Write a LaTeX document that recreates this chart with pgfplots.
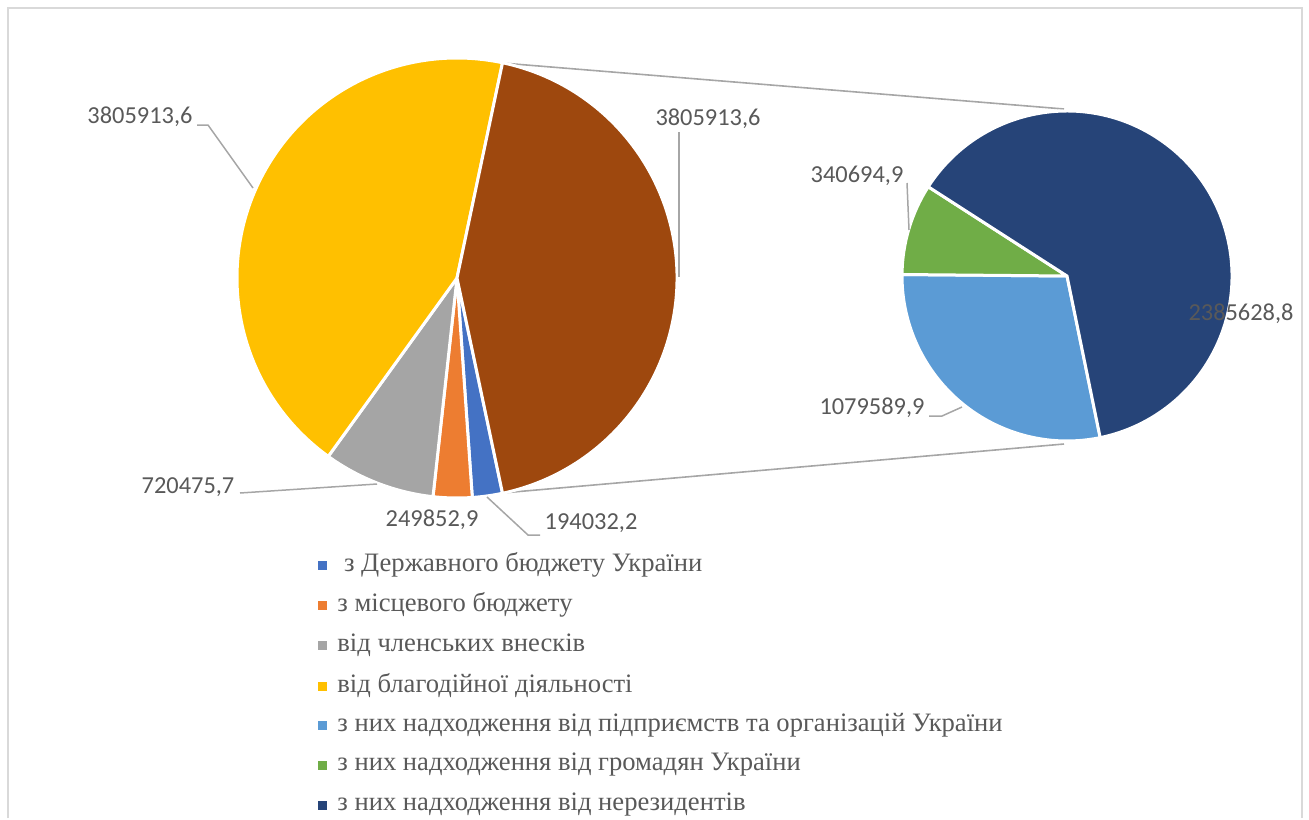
\documentclass[border=0pt]{standalone}
\usepackage{pgfplots}
\pgfplotsset{compat=1.18}
\usepackage{fontspec}
\setmainfont{Liberation Serif}
\newfontfamily\lblfont{Carlito}

\definecolor{cA}{HTML}{4472C4}
\definecolor{cB}{HTML}{ED7D31}
\definecolor{cC}{HTML}{A5A5A5}
\definecolor{cD}{HTML}{FFC000}
\definecolor{cE}{HTML}{9E480E}
\definecolor{cF}{HTML}{5B9BD5}
\definecolor{cG}{HTML}{70AD47}
\definecolor{cH}{HTML}{264478}
\definecolor{txt}{HTML}{595959}
\definecolor{lead}{HTML}{A6A6A6}
\definecolor{frame}{HTML}{D9D9D9}

% main pie
\def\vA{194032.2}   % Державний бюджет
\def\vB{249852.9}   % місцевий бюджет
\def\vC{720475.7}   % членські внески
\def\vD{3805913.6}  % благодійна діяльність
\def\vE{3805913.6}  % інше = сума другого круга
% second pie
\def\vF{1079589.9}  % підприємства
\def\vG{340694.9}   % громадяни
\def\vH{2385628.8}  % нерезиденти

\edef\tot{\fpeval{\vA+\vB+\vC+\vD+\vE}}
\edef\aA{\fpeval{-180*\vE/\tot}}
\edef\aB{\fpeval{\aA-360*\vA/\tot}}
\edef\aC{\fpeval{\aB-360*\vB/\tot}}
\edef\aD{\fpeval{\aC-360*\vC/\tot}}
\edef\aE{\fpeval{\aD-360*\vD/\tot}}
\edef\aF{\fpeval{\aE-360*\vE/\tot}}

\edef\totb{\fpeval{\vF+\vG+\vH}}
\edef\bA{-78.4}
\edef\bB{\fpeval{\bA-360*\vF/\totb}}
\edef\bC{\fpeval{\bB-360*\vG/\totb}}
\edef\bD{\fpeval{\bC-360*\vH/\totb}}

\newcommand\slice[5]{\fill[#5, draw=white, line width=1.5pt] (axis cs:#1) -- ++(#2:#4) arc[start angle=#2, end angle=#3, radius=#4] -- cycle;}
\newcommand\lbl[2]{\node[font=\lblfont\fontsize{12.2}{15}\selectfont, text=txt, inner sep=0pt] at (axis cs:#1) {#2};}
\newcommand\leg[3]{%
  \fill[#1] (axis cs:318,#2-4.5) rectangle (axis cs:327,#2+4.5);
  \node[anchor=west, inner sep=0pt, text=txt, font=\fontsize{13.3}{15}\selectfont] at (axis cs:337,#2) {#3};}

\begin{document}
\begin{tikzpicture}
\begin{axis}[scale only axis, width=654.5pt, height=409pt,
  xmin=0, xmax=1309, ymin=0, ymax=818, y dir=reverse,
  hide axis, clip=false]
\path (axis cs:0,0) rectangle (axis cs:1309,818);
% frame
\draw[frame, line width=1pt] (axis cs:8,818) -- (axis cs:8,8) -- (axis cs:1302,8) -- (axis cs:1302,818);

% connectors
\draw[lead, line width=0.8pt] (axis cs:502,63) -- (axis cs:1064,109);
\draw[lead, line width=0.8pt] (axis cs:502,493) -- (axis cs:1064,444);

% main pie
\slice{457,278}{\aA}{\aB}{110pt}{cA}
\slice{457,278}{\aB}{\aC}{110pt}{cB}
\slice{457,278}{\aC}{\aD}{110pt}{cC}
\slice{457,278}{\aD}{\aE}{110pt}{cD}
\slice{457,278}{\aE}{\aF}{110pt}{cE}

% second pie
\slice{1067,276}{\bA}{\bB}{82.5pt}{cF}
\slice{1067,276}{\bB}{\bC}{82.5pt}{cG}
\slice{1067,276}{\bC}{\bD}{82.5pt}{cH}

% leader lines
\draw[lead, line width=0.75pt] (axis cs:197,125) -- (axis cs:208,125) -- (axis cs:253,188);
\draw[lead, line width=0.75pt] (axis cs:679,132) -- (axis cs:679,277);
\draw[lead, line width=0.75pt] (axis cs:240,493) -- (axis cs:377,484);
\draw[lead, line width=0.75pt] (axis cs:540,535) -- (axis cs:528,535) -- (axis cs:487,497);
\draw[lead, line width=0.75pt] (axis cs:907,183) -- (axis cs:909,230);
\draw[lead, line width=0.75pt] (axis cs:929,416) -- (axis cs:942,416) -- (axis cs:962,407);

% data labels
\lbl{140,117}{3805913,6}
\lbl{708,119}{3805913,6}
\lbl{188,487}{720475,7}
\lbl{432,520}{249852,9}
\lbl{591,523}{194032,2}
\lbl{857,176}{340694,9}
\lbl{872,408}{1079589,9}
\lbl{1241,314}{2385628,8}

% legend
\leg{cA}{565}{\ з Державного бюджету України}
\leg{cB}{605}{з місцевого бюджету}
\leg{cC}{645}{від членських внесків}
\leg{cD}{686}{від благодійної діяльності}
\leg{cF}{725}{з них надходження від підприємств та організацій України}
\leg{cG}{765}{з них надходження від громадян України}
\leg{cH}{805}{з них надходження від нерезидентів}
\end{axis}
\end{tikzpicture}
\end{document}
